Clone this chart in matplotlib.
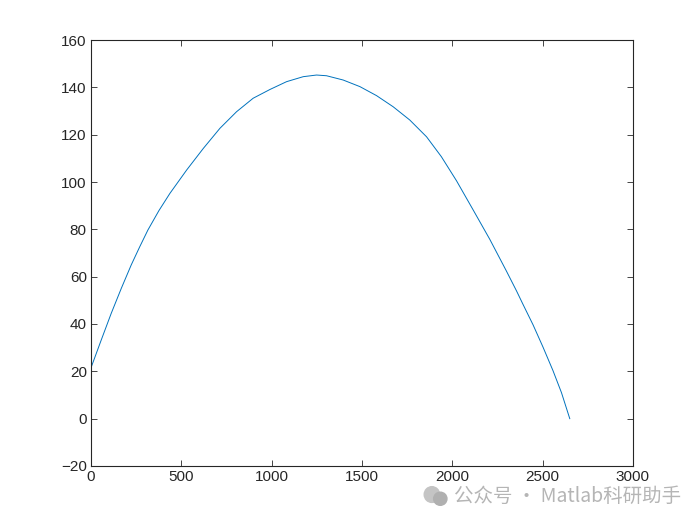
import matplotlib.pyplot as plt
from matplotlib.patches import Ellipse

# trajectory points
x_vals = [0, 57, 112, 168, 223, 269, 315, 376, 437, 530, 622, 714, 806, 898, 991,
          1083, 1175, 1249, 1304, 1396, 1489, 1581, 1673, 1765, 1858, 1940, 2024,
          2116, 2208, 2300, 2356, 2392, 2448, 2503, 2558, 2605, 2651]
y_vals = [21.5, 33.3, 44.5, 55.1, 65.0, 72.5, 79.7, 87.9, 95.2, 105.1, 114.2, 122.7, 129.7, 135.4, 139.1,
          142.4, 144.5, 145.2, 144.9, 143.1, 140.3, 136.5, 131.8, 126.2, 119.1, 110.7, 100.5,
          88.2, 75.8, 62.4, 54.0, 48.3, 39.6, 30.2, 20.3, 11.0, 0]

x_ticks = [0, 500, 1000, 1500, 2000, 2500, 3000]
y_ticks = [-20, 0, 20, 40, 60, 80, 100, 120, 140, 160]

plt.rcParams['font.family'] = ['Liberation Sans', 'Noto Sans CJK SC', 'DejaVu Sans']

fig = plt.figure(figsize=(7, 5.25), dpi=100)
ax = fig.add_axes([0.13, 0.1124, 0.774, 0.8114])
ax.plot(x_vals, y_vals, color='#0072BD', linewidth=0.7)

ax.set_xlim(0, 3000)
ax.set_ylim(-20, 160)
ax.set_xticks(x_ticks)
ax.set_yticks(y_ticks)
ax.tick_params(direction='in', top=True, right=True, length=4, width=0.6,
               labelsize=11, colors='#262626', pad=3)
for s in ax.spines.values():
    s.set_linewidth(0.8)
    s.set_color('#262626')

# watermark (wechat-ish icon + text)
fig.patches.append(Ellipse((0.617, 0.058), 0.022, 0.03, transform=fig.transFigure,
                           color='#c4c4c4', zorder=5))
fig.patches.append(Ellipse((0.629, 0.050), 0.019, 0.025, transform=fig.transFigure,
                           color='#b0b0b0', zorder=6))
fig.text(0.648, 0.054, '公众号 · Matlab科研助手', fontsize=14, color='#b5b5b5',
         family=['Noto Sans CJK SC', 'DejaVu Sans'], va='center')

fig.savefig('out.png', dpi=100)
